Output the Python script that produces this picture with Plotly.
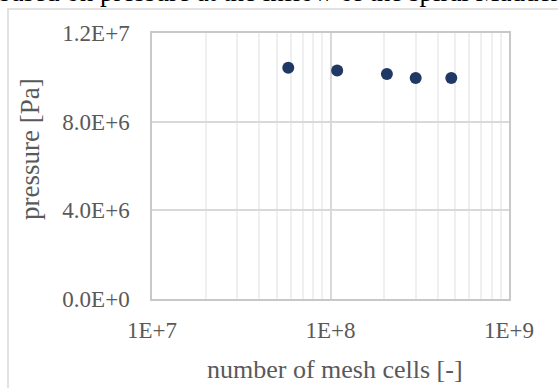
import plotly.graph_objects as go

# Data
mesh_cells = [5.8e7, 1.09e8, 2.07e8, 3.0e8, 4.75e8]
pressure = [1.043e7, 1.031e7, 1.015e7, 0.997e7, 0.997e7]

y_tickvals = [0, 4e6, 8e6, 1.2e7]
y_ticktext = ["0.0E+0", "4.0E+6", "8.0E+6", "1.2E+7"]
x_tickvals = [1e7, 1e8, 1e9]
x_ticktext = ["1E+7", "1E+8", "1E+9"]
x_minor = [m * 10 ** e for e in (7, 8) for m in range(2, 10)]

caption = "based on pressure at the inflow of the spiral Madder"
x_title = "number of mesh cells [-]"
y_title = "pressure [Pa]"

FONT = "Liberation Serif, Times New Roman, serif"
GRAY = "#595959"

W, H = 558, 388
L, R, T, B = 152, 49, 33, 89
PW, PH = W - L - R, H - T - B


def px_to_paper_x(px):
    return (px - L) / PW


def px_to_paper_y(py):
    return (H - B - py) / PH


fig = go.Figure()
fig.add_trace(go.Scatter(
    x=mesh_cells, y=pressure, mode="markers",
    marker=dict(color="#1f3864", size=12),
    showlegend=False, cliponaxis=False,
))

fig.update_layout(
    width=W, height=H,
    margin=dict(l=L, r=R, t=T, b=B, pad=0),
    paper_bgcolor="white", plot_bgcolor="white",
    font=dict(family=FONT, color=GRAY, size=23),
    xaxis=dict(
        type="log", range=[7, 9],
        tickmode="array", tickvals=x_tickvals, ticktext=x_ticktext,
        showgrid=True, gridcolor="#d9d9d9", gridwidth=1.5,
        minor=dict(tickmode="array", tickvals=x_minor, showgrid=True,
                   gridcolor="#efefef", gridwidth=1.5, ticks=""),
        showline=True, linecolor="#c8c8c8", linewidth=1.5, mirror=True,
        ticks="", zeroline=False,
        tickfont=dict(family=FONT, color=GRAY, size=23),
        ticklabelstandoff=10,
    ),
    yaxis=dict(
        range=[0, 1.2e7],
        tickmode="array", tickvals=y_tickvals, ticktext=y_ticktext,
        showgrid=True, gridcolor="#d9d9d9", gridwidth=1.5,
        showline=True, linecolor="#c8c8c8", linewidth=1.5, mirror=True,
        ticks="", zeroline=False,
        tickfont=dict(family=FONT, color=GRAY, size=23),
        ticklabelstandoff=16,
    ),
    shapes=[dict(
        type="rect", xref="paper", yref="paper",
        x0=px_to_paper_x(8), x1=px_to_paper_x(600),
        y0=px_to_paper_y(420), y1=px_to_paper_y(9),
        line=dict(color="#d9d9d9", width=1.5), fillcolor="rgba(0,0,0,0)",
        layer="above",
    )],
    annotations=[
        dict(text=caption, xref="paper", yref="paper",
             x=px_to_paper_x(-4), y=px_to_paper_y(9),
             xanchor="left", yanchor="bottom", showarrow=False,
             font=dict(family=FONT, color="black", size=27)),
        dict(text=x_title, xref="paper", yref="paper",
             x=px_to_paper_x(335), y=px_to_paper_y(369),
             xanchor="center", yanchor="middle", showarrow=False,
             font=dict(family=FONT, color=GRAY, size=26)),
        dict(text=y_title, xref="paper", yref="paper",
             x=px_to_paper_x(30), y=px_to_paper_y(149),
             xanchor="center", yanchor="middle", showarrow=False,
             textangle=-90,
             font=dict(family=FONT, color=GRAY, size=27)),
    ],
)

fig.write_html(
    "out.html",
    config={"displayModeBar": False},
    post_script="document.body.style.margin='0';document.body.style.overflow='hidden';",
)
